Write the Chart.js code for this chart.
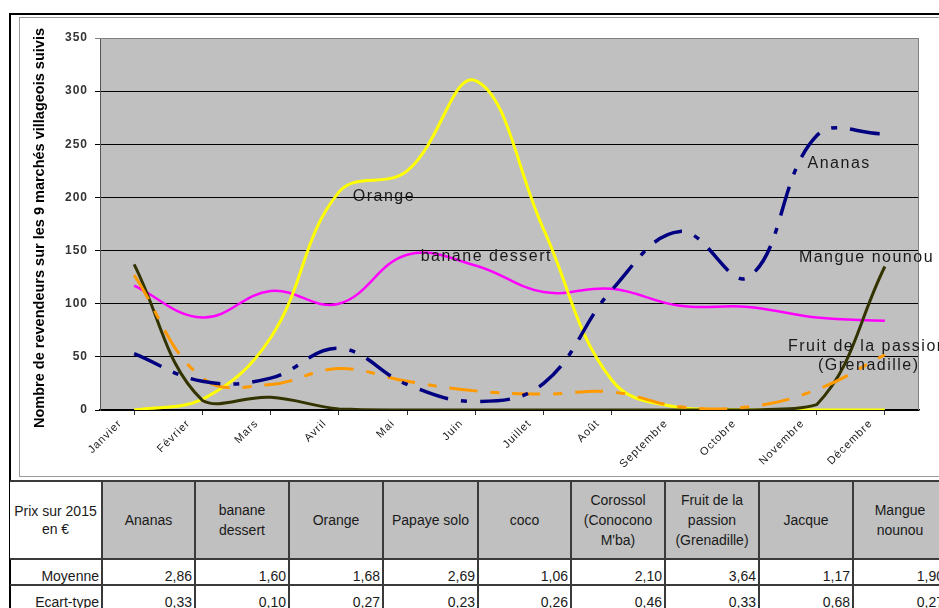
<!DOCTYPE html>
<html>
<head>
<meta charset="utf-8">
<script src="https://cdn.jsdelivr.net/npm/chart.js@4.4.1/dist/chart.umd.min.js"></script>
<style>
  html, body { margin: 0; padding: 0; background: #fff; }
  body { width: 939px; height: 608px; overflow: hidden; position: relative;
         font-family: "Liberation Sans", Arial, sans-serif; }
  #outer { position: absolute; left: 9px; top: 13px; width: 1000px; height: 700px;
           border-left: 2px solid #000; border-top: 2px solid #000; }
  #frame { position: absolute; left: 19px; top: 17px; width: 1000px; height: 458px;
           border: 1px solid #9a9a9a; border-right: none; }
  #chartBox { position: absolute; left: 20px; top: 18px; width: 919px; height: 458px; }
  #prix { position: absolute; left: 10px; top: 480px; border-collapse: collapse;
          table-layout: fixed; width: 937px; font-size: 14px; color: #1a1a1a; }
  #prix td { border: 2px solid #3a3a3a; padding: 0 2px; overflow: hidden; white-space: pre-line; }
  #prix tr.head td { height: 76px; background: #c0c0c0; text-align: center; line-height: 20px; }
  #prix tr.head td.corner { background: #fff; line-height: 18px; }
  #prix tr.row td { height: 24px; text-align: right; vertical-align: bottom; line-height: 16px; }
  #prix td.first { border-left: none; }
</style>
</head>
<body>
<div id="outer"></div>
<div id="frame"></div>
<div id="chartBox"><canvas id="fruitChart" width="919" height="458"></canvas></div>
<table id="prix"></table>

<script>
// Mois (catégories)
const months = ['Janvier', 'Février', 'Mars', 'Avril', 'Mai', 'Juin', 'Juillet',
                'Août', 'Septembre', 'Octobre', 'Novembre', 'Décembre'];

// Nombre de revendeurs par mois
const ananas  = [53, 27, 30, 58, 24, 8, 25, 113, 168, 125, 258, 260];
const banane  = [117, 87, 112, 100, 146, 136, 111, 114, 98, 97, 87, 84];
const orange  = [0, 10, 68, 205, 225, 310, 170, 28, 2, 0, 0, 0];
const passion = [127, 30, 24, 39, 27, 18, 15, 17, 3, 3, 19, 52];
const mangue  = [137, 9, 12, 1, 0, 0, 0, 0, 0, 0, 5, 135];

const yTicks = [0, 50, 100, 150, 200, 250, 300, 350];
const yTitle = 'Nombre de revendeurs sur les 9 marchés villageois suivis';

// Tableau des prix
const priceCorner = 'Prix sur 2015\nen €';
const priceHeaders = ['Ananas', 'banane\ndessert', 'Orange', 'Papaye solo', 'coco',
                      'Corossol\n(Conocono\nM\'ba)', 'Fruit de la\npassion\n(Grenadille)',
                      'Jacque', 'Mangue\nnounou'];
const moyenne = ['2,86', '1,60', '1,68', '2,69', '1,06', '2,10', '3,64', '1,17', '1,90'];
const ecartType = ['0,33', '0,10', '0,27', '0,23', '0,26', '0,46', '0,33', '0,68', '0,27'];

// Build the table
const colWidths = [92, 93, 94, 94, 95, 93, 94, 94, 94, 94];
const table = document.getElementById('prix');
const cg = document.createElement('colgroup');
colWidths.forEach(w => {
    const c = document.createElement('col');
    c.style.width = w + 'px';
    cg.appendChild(c);
});
table.appendChild(cg);

function addRow(cls, first, cells) {
    const tr = document.createElement('tr');
    tr.className = cls;
    const td0 = document.createElement('td');
    td0.className = 'first' + (cls === 'head' ? ' corner' : '');
    td0.textContent = first;
    tr.appendChild(td0);
    cells.forEach(t => {
        const td = document.createElement('td');
        td.textContent = t;
        tr.appendChild(td);
    });
    table.appendChild(tr);
}
addRow('head', priceCorner, priceHeaders);
addRow('row', 'Moyenne', moyenne);
addRow('row', 'Ecart-type', ecartType);

// Series name labels, anchored in data units (category index, value)
const seriesLabels = [
    { text: 'Orange', idx: 3.66, val: 201, align: 'center' },
    { text: 'banane dessert', idx: 5.16, val: 144, align: 'center' },
    { text: 'Ananas', idx: 10.33, val: 232, align: 'center' },
    { text: 'Mangue nounou', idx: 9.74, val: 143, align: 'left' },
    { text: 'Fruit de la passion', idx: 9.58, val: 60, align: 'left' },
    { text: '(Grenadille)', idx: 10.02, val: 42, align: 'left' }
];

const FONT = '"Liberation Sans", Arial, sans-serif';

const plotDecor = {
    id: 'plotDecor',
    beforeDraw(chart) {
        const { ctx, chartArea: a } = chart;
        ctx.save();
        ctx.fillStyle = '#c0c0c0';
        ctx.fillRect(a.left, a.top, a.right - a.left, a.bottom - a.top);
        ctx.restore();
        ctx.letterSpacing = '1px';
    },
    beforeDatasetsDraw(chart) {
        const { ctx, chartArea: a } = chart;
        ctx.save();
        ctx.strokeStyle = '#808080';
        ctx.lineWidth = 1;
        ctx.beginPath();
        ctx.moveTo(a.left, a.top + 0.5);
        ctx.lineTo(a.right - 0.5, a.top + 0.5);
        ctx.lineTo(a.right - 0.5, a.bottom);
        ctx.stroke();
        ctx.restore();
    },
    afterDatasetsDraw(chart) {
        const { ctx } = chart;
        const xs = chart.scales.x, ys = chart.scales.y;
        ctx.save();
        ctx.font = '16px ' + FONT;
        ctx.letterSpacing = '1.5px';
        ctx.fillStyle = '#1a1a1a';
        ctx.textBaseline = 'middle';
        seriesLabels.forEach(l => {
            ctx.textAlign = l.align;
            ctx.fillText(l.text, xs.getPixelForValue(l.idx), ys.getPixelForValue(l.val));
        });
        ctx.restore();
    },
    afterDraw(chart) {
        const { ctx, chartArea: a } = chart;
        ctx.save();
        ctx.letterSpacing = '0px';
        ctx.font = 'bold 15px ' + FONT;
        const w = ctx.measureText(yTitle).width;
        ctx.translate(20, (a.top + a.bottom) / 2 + 4);
        ctx.rotate(-Math.PI / 2);
        ctx.scale(400 / w, 1);
        ctx.textAlign = 'center';
        ctx.textBaseline = 'middle';
        ctx.fillStyle = '#000';
        ctx.fillText(yTitle, 0, 0);
        ctx.restore();
    }
};

function series(label, data, color, width, dash) {
    return {
        label: label,
        data: data,
        borderColor: color,
        backgroundColor: color,
        borderWidth: width,
        borderDash: dash,
        pointRadius: 0,
        tension: 0.4,
        fill: false
    };
}

new Chart(document.getElementById('fruitChart').getContext('2d'), {
    type: 'line',
    data: {
        labels: months,
        datasets: [
            series('Ananas', ananas, '#000080', 3.5, [30, 13, 6, 13]),
            series('Fruit de la passion (Grenadille)', passion, '#ff9900', 3, [28, 13, 9, 13]),
            series('Mangue nounou', mangue, '#333300', 3, []),
            series('Orange', orange, '#ffff00', 3, []),
            series('banane dessert', banane, '#ff00ff', 2.5, [])
        ]
    },
    options: {
        responsive: false,
        devicePixelRatio: 1,
        animation: false,
        layout: { padding: { top: 20, right: 20, left: 0, bottom: 0 } },
        plugins: {
            legend: { display: false },
            tooltip: { enabled: false }
        },
        scales: {
            x: {
                offset: true,
                afterFit: s => { s.height = 66; },
                grid: { display: true, drawOnChartArea: false, drawTicks: true, tickLength: 5, color: '#333' },
                border: { display: true, color: '#000', width: 1.5 },
                ticks: {
                    autoSkip: false,
                    minRotation: 45,
                    maxRotation: 45,
                    padding: 2,
                    labelOffset: -14,
                    color: '#222',
                    font: { size: 11, family: FONT }
                }
            },
            y: {
                min: 0,
                max: 350,
                afterFit: s => { s.width = 80; },
                afterBuildTicks: s => { s.ticks = yTicks.map(v => ({ value: v })); },
                grid: {
                    color: c => (c.tick && c.tick.value === 350) ? '#808080' : '#000',
                    lineWidth: 1,
                    tickLength: 5
                },
                border: { display: true, color: '#555', width: 1 },
                ticks: {
                    padding: 7,
                    color: '#333',
                    font: { size: 12, weight: 'bold', family: FONT }
                }
            }
        }
    },
    plugins: [plotDecor]
});
</script>
</body>
</html>
